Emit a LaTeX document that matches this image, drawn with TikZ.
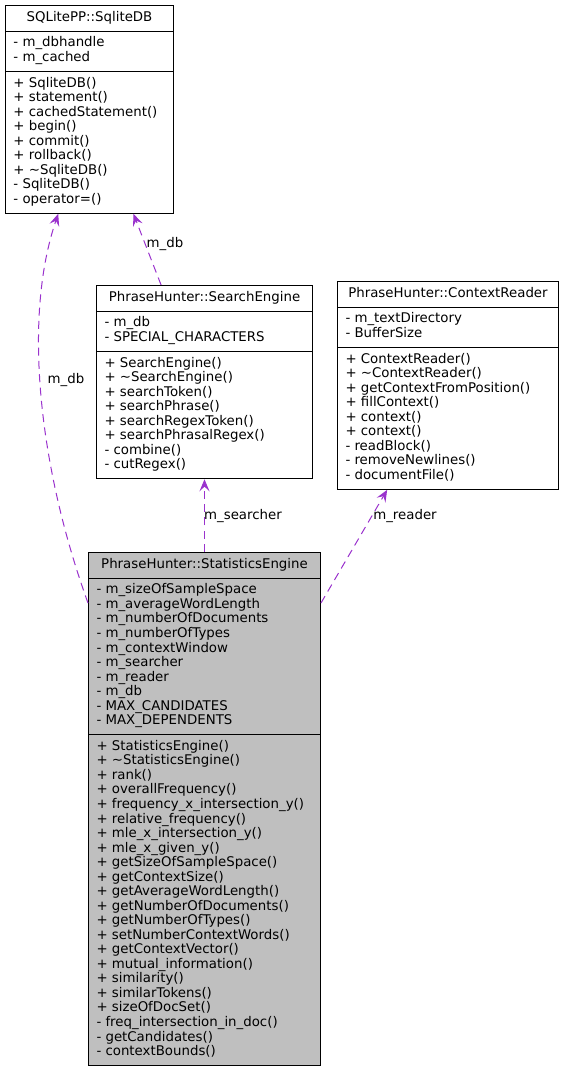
\documentclass[tikz,border=0pt]{standalone}
\usepackage{fontspec}
\usepackage{xcolor}
\usepackage{tikz}
\usetikzlibrary{arrows.meta,shapes.multipart,calc}
\newfontfamily\dxfont{DejaVu Sans}
\definecolor{edgeplum}{HTML}{9A32CD}
\definecolor{focusgray}{HTML}{BFBFBF}
\newcommand{\rows}[1]{\begin{tabular}{@{}l@{}}#1\end{tabular}}
\tikzset{
  dx/.style={font=\dxfont\fontsize{10}{10.9}\selectfont},
  classbox/.style={dx,draw=black,fill=white,line width=0.75pt,rectangle split,rectangle split parts=3,
    rectangle split part align={center,left,left},inner xsep=6pt,inner ysep=3.8pt,anchor=north west},
  uses/.style={edgeplum,line width=0.75pt,dash pattern=on 6pt off 4pt,-{Stealth[length=9pt,width=7.5pt,inset=3.5pt]}},
  lbl/.style={dx,inner sep=0pt}
}

\begin{document}
\begin{tikzpicture}[x=0.75pt,y=-0.75pt]
  \useasboundingbox(0,0)rectangle(563,1072);
  % classes
  \node[classbox,minimum width=126pt](db)at(5,5){\rows{SQLitePP::SqliteDB}
    \nodepart{second}\rows{- m\_dbhandle\\- m\_cached}
    \nodepart{third}\rows{+ SqliteDB()\\+ statement()\\+ cachedStatement()\\+ begin()\\+ commit()\\+ rollback()\\+ \textasciitilde SqliteDB()\\- SqliteDB()\\- operator=()}};
  \node[classbox,minimum width=162pt](search)at(96,285){\rows{PhraseHunter::SearchEngine}
    \nodepart{second}\rows{- m\_db\\- SPECIAL\_CHARACTERS}
    \nodepart{third}\rows{+ SearchEngine()\\+ \textasciitilde SearchEngine()\\+ searchToken()\\+ searchPhrase()\\+ searchRegexToken()\\+ searchPhrasalRegex()\\- combine()\\- cutRegex()}};
  \node[classbox,minimum width=165.75pt](ctx)at(337,281){\rows{PhraseHunter::ContextReader}
    \nodepart{second}\rows{- m\_textDirectory\\- BufferSize}
    \nodepart{third}\rows{+ ContextReader()\\+ \textasciitilde ContextReader()\\+ getContextFromPosition()\\+ fillContext()\\+ context()\\+ context()\\- readBlock()\\- removeNewlines()\\- documentFile()}};
  \node[classbox,fill=focusgray,minimum width=174pt](stat)at(88,552){\rows{PhraseHunter::StatisticsEngine}
    \nodepart{second}\rows{- m\_sizeOfSampleSpace\\- m\_averageWordLength\\- m\_numberOfDocuments\\- m\_numberOfTypes\\- m\_contextWindow\\- m\_searcher\\- m\_reader\\- m\_db\\- MAX\_CANDIDATES\\- MAX\_DEPENDENTS}
    \nodepart{third}\rows{+ StatisticsEngine()\\+ \textasciitilde StatisticsEngine()\\+ rank()\\+ overallFrequency()\\+ frequency\_x\_intersection\_y()\\+ relative\_frequency()\\+ mle\_x\_intersection\_y()\\+ mle\_x\_given\_y()\\+ getSizeOfSampleSpace()\\+ getContextSize()\\+ getAverageWordLength()\\+ getNumberOfDocuments()\\+ getNumberOfTypes()\\+ setNumberContextWords()\\+ getContextVector()\\+ mutual\_information()\\+ similarity()\\+ similarTokens()\\+ sizeOfDocSet()\\- freq\_intersection\_in\_doc()\\- getCandidates()\\- contextBounds()}};
  % members
  \draw[uses]($(search.north west)!0.3!(search.north east)$)--($(db.south west)!0.76!(db.south east)$);
  \draw[uses]($(stat.north west)+(0,51)$)..controls(40,470)and(22,320)..($(db.south west)!0.315!(db.south east)$);
  \draw[uses](stat.north)--(search.south);
  \draw[uses]($(stat.north east)+(0,51)$)--($(ctx.south west)!0.226!(ctx.south east)$);
  \node[lbl](dblbl)at(165,244){m\_db};
  \node[lbl](dblbl2)at(66,380){m\_db};
  \node[lbl](searchlbl)at(243,516){m\_searcher};
  \node[lbl](readerlbl)at(405,516){m\_reader};
\end{tikzpicture}
\end{document}
